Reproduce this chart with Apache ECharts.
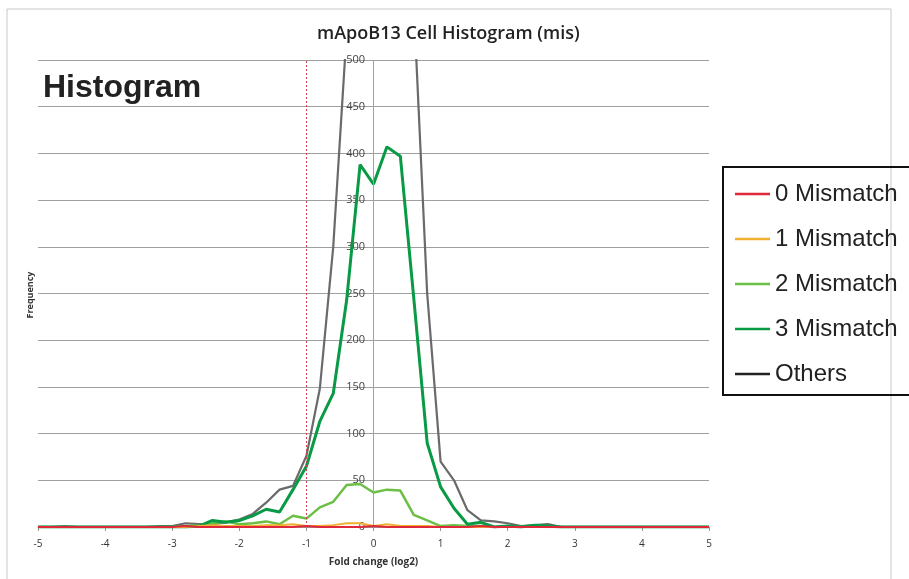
<!DOCTYPE html>
<html>
<head>
<meta charset="utf-8">
<script src="https://cdn.jsdelivr.net/npm/echarts@6/dist/echarts.min.js"></script>
<style>
html,body{margin:0;padding:0;background:#fff;}
#chart{width:909px;height:579px;}
</style>
</head>
<body>
<div id="chart"></div>
<script>
var bins = [-5.0,-4.8,-4.6,-4.4,-4.2,-4.0,-3.8,-3.6,-3.4,-3.2,
            -3.0,-2.8,-2.6,-2.4,-2.2,-2.0,-1.8,-1.6,-1.4,-1.2,
            -1.0,-0.8,-0.6,-0.4,-0.2,0.0,0.2,0.4,0.6,0.8,
            1.0,1.2,1.4,1.6,1.8,2.0,2.2,2.4,2.6,2.8,
            3.0,3.2,3.4,3.6,3.8,4.0,4.2,4.4,4.6,4.8,5.0];
var mis0 = [0,0,0,0,0,0,0,0,0,0,
            0,1,0,0,0,0,0,0,0,0,
            1,0,0,0,0,1,0,0,0,0,
            0,0,0,1,0,0,0,0,0,0,
            0,0,0,0,0,0,0,0,0,0,0];
var mis1 = [0,0,0,0,0,0,0,0,0,0,
            0,0,1,2,1,1,1,2,2,3,
            1,1,2,4,4,1,3,1,1,1,
            0,0,0,0,0,0,0,0,0,0,
            0,0,0,0,0,0,0,0,0,0,0];
var mis2 = [0,0,0,0,0,0,0,0,0,0,
            0,1,2,4,6,3,4,6,3,12,
            9,21,27,45,46,37,40,39,13,7,
            1,2,1,1,0,1,0,1,0,0,
            0,0,0,0,0,0,0,0,0,0,0];
var mis3 = [0,0,0,0,0,0,0,0,0,0,
            0,0,1,7,5,7,12,19,16,40,
            65,113,143,243,388,367,407,397,245,90,
            43,20,3,5,0,1,0,2,1,0,
            0,0,0,0,0,0,0,0,0,0,0];
var others = [0,0,1,0,0,0,0,0,0,1,
              1,4,3,3,5,8,14,26,40,44,
              76,148,300,530,880,1000,950,780,560,250,
              70,50,18,7,6,4,1,2,3,0,
              0,0,0,0,0,0,0,0,0,0,0];
var xTicks = [-5,-4,-3,-2,-1,0,1,2,3,4,5];
var cutoff = -1;

function pairs(vals){ return bins.map(function(b,i){ return [b, vals[i]]; }); }

var chart = echarts.init(document.getElementById('chart'));
var font = '"Open Sans", "Liberation Sans", sans-serif';
chart.setOption({
  animation:false,
  backgroundColor:'#fff',
  title:{
    text:'mApoB13 Cell Histogram (mis)',
    left:312, top:20,
    textStyle:{fontFamily:font, fontWeight:600, fontSize:18, color:'#222'}
  },
  graphic:[
    {type:'rect', shape:{x:7,y:9,width:884,height:600}, style:{fill:'none', stroke:'#c8c8c8', lineWidth:1}, z:-1},
    {type:'text', left:43, top:72, style:{text:'Histogram', font:'bold 32px "Liberation Sans", Arial, sans-serif', fill:'#222'}},
    {type:'text', x:30, y:295, rotation:Math.PI/2, style:{text:'Frequency', font:'bold 9px ' + font, fill:'#333', textAlign:'center', textVerticalAlign:'middle'}}
  ],
  legend:{
    orient:'vertical',
    left:723, top:167,
    padding:[15,40,9,12],
    borderColor:'#111', borderWidth:2,
    icon:'rect',
    itemWidth:35, itemHeight:2.5, itemGap:21,
    textStyle:{fontFamily:'"Liberation Sans", Arial, sans-serif', fontSize:24, lineHeight:24, color:'#222'},
    data:[
      {name:'0 Mismatch'},
      {name:'1 Mismatch'},
      {name:'2 Mismatch'},
      {name:'3 Mismatch'},
      {name:'Others', itemStyle:{color:'#222'}}
    ]
  },
  grid:{left:38, right:200, top:60, bottom:52},
  xAxis:{
    type:'value', min:-5, max:5, interval:1,
    name:'Fold change (log2)', nameLocation:'middle', nameGap:30,
    nameTextStyle:{fontFamily:font, fontWeight:'bold', fontSize:10, color:'#333'},
    axisLine:{onZero:true, lineStyle:{color:'#999'}},
    axisTick:{show:true, length:4, lineStyle:{color:'#999'}},
    axisLabel:{fontFamily:font, fontSize:10, color:'#333', margin:12,
      formatter:function(v){ return xTicks.indexOf(v) >= 0 ? String(v) : ''; }},
    splitLine:{show:false}
  },
  yAxis:{
    type:'value', min:0, max:500, interval:50,
    axisLine:{show:false, onZero:false},
    axisTick:{show:false},
    axisLabel:{fontFamily:font, fontSize:11, color:'#444', margin:-327},
    splitLine:{show:true, lineStyle:{color:'#a0a0a0', width:1}}
  },
  series:[
    {name:'Others', type:'line', data:pairs(others), symbol:'none', clip:true, z:2,
     lineStyle:{color:'#6a6a6a', width:2.2}, itemStyle:{color:'#6a6a6a'},
     markLine:{silent:true, symbol:'none', label:{show:false},
       data:[
         {xAxis:cutoff, lineStyle:{color:'#d04050', type:[2,2], width:1}},
         {xAxis:0, lineStyle:{color:'#a0a0a0', type:'solid', width:1}}
       ]}},
    {name:'0 Mismatch', type:'line', data:pairs(mis0), symbol:'none', z:5,
     lineStyle:{color:'#e0283c', width:2}, itemStyle:{color:'#e0283c'}},
    {name:'1 Mismatch', type:'line', data:pairs(mis1), symbol:'none', z:4,
     lineStyle:{color:'#f0b030', width:2}, itemStyle:{color:'#f0b030'}},
    {name:'2 Mismatch', type:'line', data:pairs(mis2), symbol:'none', z:3,
     lineStyle:{color:'#6bbf45', width:2.5}, itemStyle:{color:'#6bbf45'}},
    {name:'3 Mismatch', type:'line', data:pairs(mis3), symbol:'none', z:3,
     lineStyle:{color:'#089a45', width:3}, itemStyle:{color:'#089a45'}}
  ]
});
</script>
</body>
</html>
